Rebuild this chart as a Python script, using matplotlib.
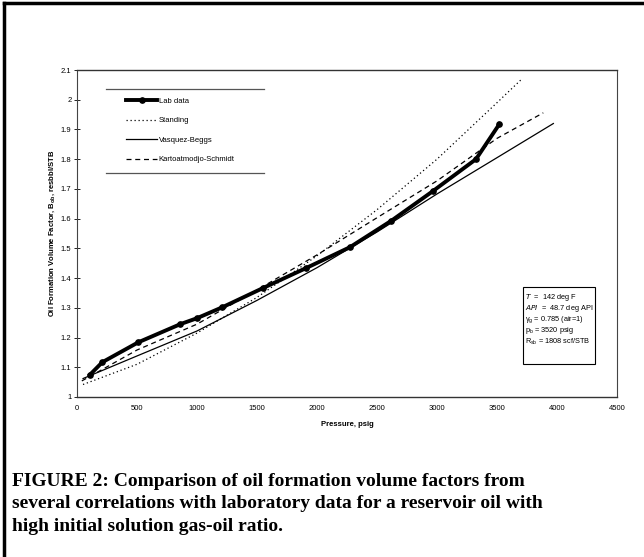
import matplotlib
matplotlib.use('Agg')
import matplotlib.pyplot as plt
from matplotlib.lines import Line2D
from matplotlib.patches import Rectangle

plt.rcParams['font.family'] = ['Liberation Sans', 'DejaVu Sans']
plt.rcParams['mathtext.default'] = 'regular'

# datos
lab_p = [108, 211, 511, 861, 1000, 1212, 1553, 1911, 2275, 2620, 2964, 3325, 3520]
lab_bo = [1.075, 1.117, 1.184, 1.245, 1.265, 1.302, 1.367, 1.434, 1.504, 1.593, 1.692, 1.800, 1.918]

standing_p = [50, 500, 1000, 1500, 2000, 2500, 3000, 3500, 3713]
standing_bo = [1.042, 1.110, 1.215, 1.335, 1.475, 1.630, 1.800, 1.990, 2.072]

vb_p = [50, 500, 1000, 1500, 2000, 2500, 3000, 3500, 3970]
vb_bo = [1.062, 1.138, 1.222, 1.325, 1.435, 1.555, 1.683, 1.805, 1.920]

ks_p = [40, 500, 1000, 1500, 2000, 2500, 3000, 3500, 3886]
ks_bo = [1.054, 1.158, 1.245, 1.360, 1.478, 1.603, 1.727, 1.870, 1.956]

x_ticks = [0, 500, 1000, 1500, 2000, 2500, 3000, 3500, 4000, 4500]
y_ticks = [1, 1.1, 1.2, 1.3, 1.4, 1.5, 1.6, 1.7, 1.8, 1.9, 2, 2.1]

info_lines = ['$\\it{T}$  =  142 deg F',
              '$\\it{API}$  =  48.7 deg API',
              '$\\gamma_g$ = 0.785 (air=1)',
              '$p_b$ = 3520 psig',
              '$R_{sb}$ = 1808 scf/STB']

caption = ('FIGURE 2: Comparison of oil formation volume factors from\n'
           'several correlations with laboratory data for a reservoir oil with\n'
           'high initial solution gas-oil ratio.')

fig = plt.figure(figsize=(6.44, 5.57), dpi=100)
ax = fig.add_axes([0.1196, 0.2873, 0.8384, 0.587])

ax.plot(lab_p, lab_bo, color='black', lw=2.8, marker='o', ms=3.8, label='Lab data')
ax.plot(standing_p, standing_bo, color='black', lw=0.9, ls=(0, (1, 2.2)), label='Standing')
ax.plot(vb_p, vb_bo, color='black', lw=0.9, label='Vasquez-Beggs')
ax.plot(ks_p, ks_bo, color='black', lw=0.9, ls=(0, (4, 3)), label='Kartoatmodjo-Schmidt')

ax.set_xlim(0, 4500)
ax.set_ylim(1, 2.1)
ax.set_xticks(x_ticks)
ax.set_xticklabels([str(v) for v in x_ticks])
ax.set_yticks(y_ticks)
ax.set_yticklabels([f'{v:g}' for v in y_ticks])
ax.tick_params(axis='x', length=0, labelsize=5.5, pad=6)
ax.tick_params(axis='y', direction='inout', length=4, width=0.6, labelsize=5.5, pad=2)

for side in ['left', 'right']:
    ax.spines[side].set_linestyle((0, (1, 1)))
    ax.spines[side].set_linewidth(0.8)
    ax.spines[side].set_color('#444444')
for side in ['top', 'bottom']:
    ax.spines[side].set_linewidth(1.0)
    ax.spines[side].set_color('#333333')

ax.set_xlabel('Pressure, psig', fontsize=5.5, fontweight='bold', labelpad=6)
ax.set_ylabel('Oil Formation Volume Factor, B$_{ob}$, resbbl/STB', fontsize=5.5,
              fontweight='bold', labelpad=3)

leg = ax.legend(loc='upper left', bbox_to_anchor=(0.076, 0.685, 0.27, 0.257),
                mode='expand', frameon=False, fontsize=5.5, handlelength=4,
                handletextpad=0.2, labelspacing=1.6, borderaxespad=0, borderpad=1.1)
for yy in [0.942, 0.685]:
    ax.add_line(Line2D([0.054, 0.346], [yy, yy], transform=ax.transAxes,
                       color='#555555', lw=0.9))

# caja de datos del fluido
ax.add_patch(Rectangle((0.826, 0.10), 0.133, 0.236, transform=ax.transAxes,
                       fill=False, edgecolor='black', lw=0.8))
for i, s in enumerate(info_lines):
    ax.text(0.829, 0.305 - i * 0.034, s, transform=ax.transAxes, fontsize=5.3,
            va='center', ha='left')

fig.text(12 / 644, 1 - 473 / 557, caption, fontsize=14, fontweight='bold',
         family=['Liberation Serif', 'DejaVu Serif'], va='top', ha='left',
         linespacing=1.42)

# marco negro
fig.add_artist(Line2D([4 / 644, 4 / 644], [0, 1 - 3 / 557], transform=fig.transFigure,
                      color='black', lw=2.5))
fig.add_artist(Line2D([4 / 644, 1], [1 - 3 / 557, 1 - 3 / 557], transform=fig.transFigure,
                      color='black', lw=2.5))

fig.savefig('out.png', dpi=100)
